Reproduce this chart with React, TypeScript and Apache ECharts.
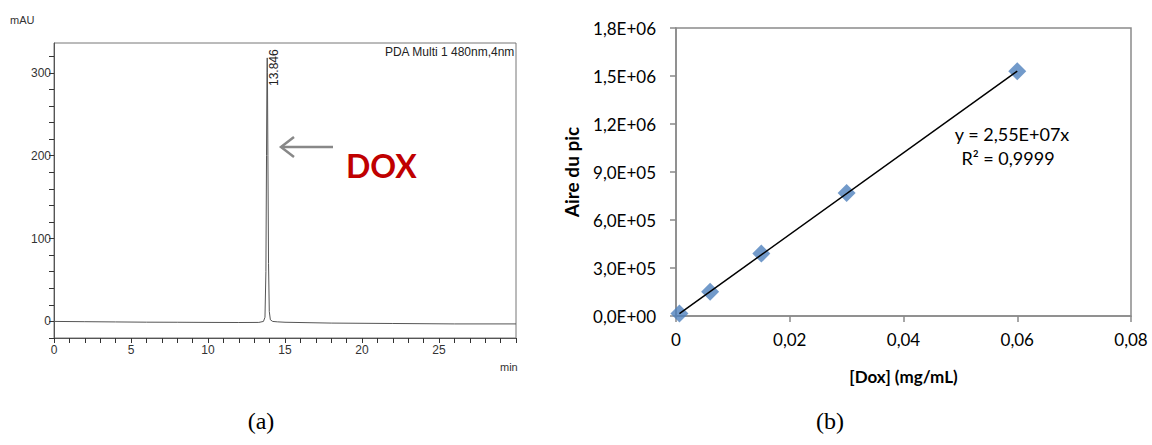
import React, { useEffect, useRef } from "react";
import * as echarts from "echarts";

// ---- (a) chromatogram ----
const chromTime = [0, 2, 4, 6, 8, 10, 12, 13.3, 13.6, 13.7, 13.76, 13.8, 13.83, 13.846, 13.86, 13.89, 13.93, 13.98, 14.05, 14.2, 14.5, 15, 18, 22, 26, 30];
const chromSignal = [0, -0.3, -0.6, -0.9, -1, -1.2, -1.3, -1.2, 0, 5, 60, 200, 300, 318, 300, 200, 70, 12, 2, 0, -0.5, -1, -2, -2.5, -3, -3];
const peakLabel = "13.846";

// ---- (b) calibration ----
const doseX = [0.0006, 0.006, 0.015, 0.03, 0.06];
const areaY = [15000, 152000, 390000, 768000, 1530000];
const trendX = [0.0006, 0.06];
const trendY = [15300, 1530000];
const equationText = "y = 2,55E+07x";
const r2Text = "R² = 0,9999";

const narrow = "'Liberation Sans Narrow', 'Arial Narrow', 'Liberation Sans', sans-serif";
const calib = "Lato, 'Open Sans', sans-serif";

function sciFmt(v: number): string {
  if (v === 0) return "0,0E+00";
  const e = Math.floor(Math.log10(v) + 1e-9);
  const m = v / Math.pow(10, e);
  return m.toFixed(1).replace(".", ",") + "E+" + String(e).padStart(2, "0");
}

export default function App() {
  const ref = useRef<HTMLDivElement>(null);
  useEffect(() => {
    document.body.style.margin = "0";
    const chart = echarts.init(ref.current!, null, { renderer: "svg" });
    chart.setOption({
      animation: false,
      backgroundColor: "#fff",
      grid: [
        { left: 54, top: 43, width: 462, height: 295, show: true, borderColor: "#777", borderWidth: 1 },
        { left: 676, top: 28, width: 455, height: 288, show: true, borderColor: "#8a8a8a", borderWidth: 1.5 },
      ],
      xAxis: [
        {
          gridIndex: 0, type: "value", min: 0, max: 30, interval: 1,
          axisLine: { show: true, onZero: false, lineStyle: { color: "#555" } },
          axisTick: { show: true, length: 5, lineStyle: { color: "#333" } },
          axisLabel: {
            color: "#333", fontFamily: narrow, fontSize: 12, margin: 6,
            formatter: (v: number) => (v % 5 === 0 && v < 30 ? String(v) : ""),
          },
          splitLine: { show: false },
        },
        {
          gridIndex: 1, type: "value", min: 0, max: 0.08, interval: 0.02,
          name: "[Dox] (mg/mL)", nameLocation: "middle", nameGap: 52,
          nameTextStyle: { fontFamily: calib, fontWeight: "bold", fontSize: 17, color: "#000" },
          axisLine: { show: true, onZero: false, lineStyle: { color: "#8a8a8a", width: 1.5 } },
          axisTick: { show: true, length: 6, lineStyle: { color: "#8a8a8a", width: 1.5 } },
          axisLabel: {
            color: "#000", fontFamily: calib, fontSize: 17, margin: 15,
            formatter: (v: number) => (v === 0 ? "0" : v.toFixed(2).replace(".", ",")),
          },
          splitLine: { show: false },
        },
      ],
      yAxis: [
        {
          gridIndex: 0, type: "value", min: -20, max: 336, interval: 20,
          axisLine: { show: true, onZero: false, lineStyle: { color: "#555" } },
          axisTick: { show: true, length: 5, lineStyle: { color: "#333" } },
          axisLabel: {
            color: "#333", fontFamily: narrow, fontSize: 12, margin: 3,
            showMaxLabel: false,
            formatter: (v: number) => (v % 100 === 0 && v >= 0 ? String(v) : ""),
          },
          splitLine: { show: false },
        },
        {
          gridIndex: 1, type: "value", min: 0, max: 1800000, interval: 300000,
          name: "Aire du pic", nameLocation: "middle", nameGap: 95, nameRotate: 90,
          nameTextStyle: { fontFamily: calib, fontWeight: "bold", fontSize: 19, color: "#000" },
          axisLine: { show: true, lineStyle: { color: "#8a8a8a", width: 1.5 } },
          axisTick: { show: true, length: 6, lineStyle: { color: "#8a8a8a", width: 1.5 } },
          axisLabel: { color: "#000", fontFamily: calib, fontSize: 17, margin: 20, formatter: sciFmt },
          splitLine: { show: false },
        },
      ],
      series: [
        {
          type: "line", xAxisIndex: 0, yAxisIndex: 0, showSymbol: false,
          data: chromTime.map((t, i) => [t, chromSignal[i]]),
          lineStyle: { color: "#555", width: 1 },
        },
        {
          type: "scatter", xAxisIndex: 1, yAxisIndex: 1, symbol: "diamond", symbolSize: 18,
          itemStyle: { color: "#4F81BD" },
          data: doseX.map((x, i) => [x, areaY[i]]), z: 2,
        },
        {
          type: "line", xAxisIndex: 1, yAxisIndex: 1, showSymbol: false,
          data: trendX.map((x, i) => [x, trendY[i]]),
          lineStyle: { color: "#000", width: 1.5 }, z: 3,
        },
      ],
      graphic: [
        { type: "text", left: 10, top: 14, style: { text: "mAU", font: `11px ${narrow}`, fill: "#333" } },
        { type: "text", left: 500, top: 361, style: { text: "min", font: `11px ${narrow}`, fill: "#333" } },
        { type: "text", right: 1152 - 515, top: 46, style: { text: "PDA Multi 1 480nm,4nm", font: `12px ${narrow}`, fill: "#222" } },
        {
          type: "text", x: 268, y: 86, rotation: Math.PI / 2,
          style: { text: peakLabel, font: `12px ${narrow}`, fill: "#222", verticalAlign: "top", align: "left" },
        },
        {
          type: "polyline",
          shape: { points: [[333, 147], [281, 147]] },
          style: { stroke: "#888", lineWidth: 2.5 },
        },
        {
          type: "polyline",
          shape: { points: [[294, 137], [281, 147], [294, 157]] },
          style: { stroke: "#888", lineWidth: 2.5, fill: "none" },
        },
        { type: "text", x: 346, y: 165, style: { text: "DOX", font: `bold 32px ${calib}`, fill: "#C00000", verticalAlign: "middle" } },
        { type: "text", x: 1012, y: 134, style: { text: equationText, font: `18px ${calib}`, fill: "#000", align: "center", verticalAlign: "middle" } },
        { type: "text", x: 1008, y: 158, style: { text: r2Text, font: `18px ${calib}`, fill: "#000", align: "center", verticalAlign: "middle" } },
        { type: "text", x: 261, y: 421, style: { text: "(a)", font: "24px 'Liberation Serif', 'Times New Roman', serif", fill: "#000", align: "center", verticalAlign: "middle" } },
        { type: "text", x: 830, y: 421, style: { text: "(b)", font: "24px 'Liberation Serif', 'Times New Roman', serif", fill: "#000", align: "center", verticalAlign: "middle" } },
      ],
    });
    return () => chart.dispose();
  }, []);
  return <div ref={ref} style={{ width: 1152, height: 445 }} />;
}
